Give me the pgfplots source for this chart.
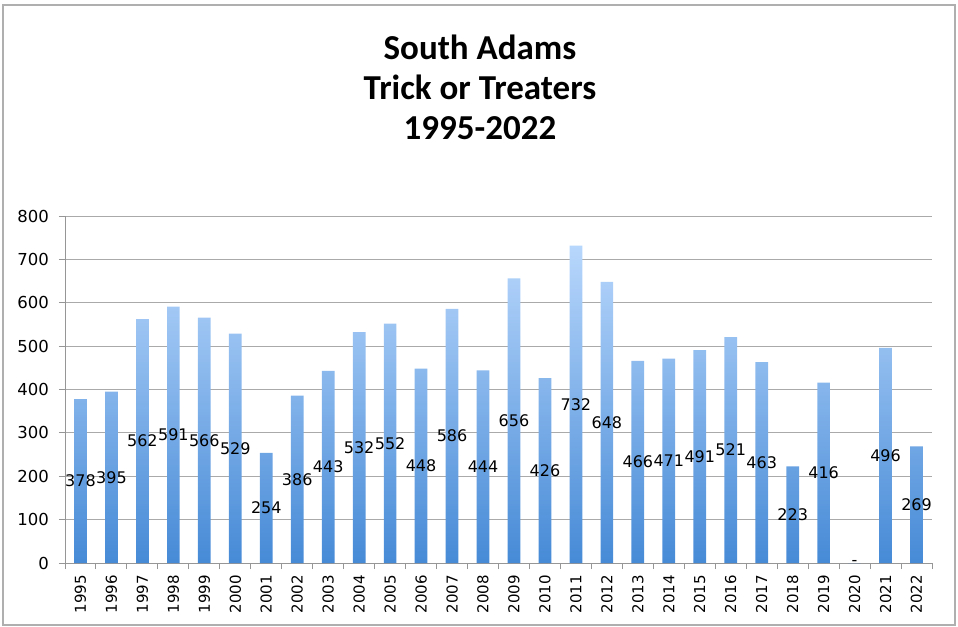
\documentclass[border=0pt]{standalone}
\usepackage{pgfplots}
\pgfplotsset{compat=1.18}
\usepackage{pgfplotstable}
\usepackage{fontspec}
\setmainfont{DejaVu Sans}
\newfontfamily\titlefont{Carlito}
\definecolor{barTop}{RGB}{184,215,252}
\definecolor{barBot}{RGB}{70,138,214}
\definecolor{gridgray}{RGB}{170,170,170}
\definecolor{axisgray}{RGB}{150,150,150}
\definecolor{framegray}{RGB}{175,175,175}
\pgfplotstableread{
x year y label
0 1995 378 378
1 1996 395 395
2 1997 562 562
3 1998 591 591
4 1999 566 566
5 2000 529 529
6 2001 254 254
7 2002 386 386
8 2003 443 443
9 2004 532 532
10 2005 552 552
11 2006 448 448
12 2007 586 586
13 2008 444 444
14 2009 656 656
15 2010 426 426
16 2011 732 732
17 2012 648 648
18 2013 466 466
19 2014 471 471
20 2015 491 491
21 2016 521 521
22 2017 463 463
23 2018 223 223
24 2019 416 416
25 2020 0 -
26 2021 496 496
27 2022 269 269
}\datatable
\begin{document}
\begin{tikzpicture}
\path[use as bounding box] (0,0) rectangle (958bp,627bp);
\draw[framegray, line width=1.5bp] (3bp,2bp) rectangle (955bp,622bp);
\node[align=center, font=\titlefont\bfseries\fontsize{35bp}{40bp}\selectfont] at (480bp,540bp) {South Adams\\Trick or Treaters\\1995-2022};
\begin{axis}[
  at={(65bp,64bp)}, anchor=south west,
  scale only axis, width=867bp, height=347bp,
  xmin=-0.5, xmax=27.5, ymin=0, ymax=800,
  ytick={0,100,...,800},
  ymajorgrids, grid style={draw=gridgray, line width=1bp},
  axis x line*=bottom, axis y line*=left,
  axis line style={draw=axisgray, line width=1bp},
  tick align=outside,
  major tick length=6bp,
  tick style={draw=axisgray, line width=1bp},
  xtick={-0.5,0.5,...,27.5},
  xticklabel=\empty,
  extra x ticks={0,1,...,27},
  extra x tick labels={1995,1996,1997,1998,1999,2000,2001,2002,2003,2004,2005,2006,2007,2008,2009,2010,2011,2012,2013,2014,2015,2016,2017,2018,2019,2020,2021,2022},
  extra x tick style={major tick length=0pt, grid=none,
     tick label style={rotate=90, anchor=east, inner xsep=12bp, font=\fontsize{15bp}{17bp}\selectfont}},
  yticklabel style={font=\fontsize{16.5bp}{19bp}\selectfont, inner xsep=10bp},
  /pgf/number format/assume math mode=true,
  clip=false,
]
\addplot[ybar, bar width=0.41, draw=none, top color=barTop, bottom color=barBot] table[x=x, y=y]{\datatable};
\addplot[draw=none, mark=none, nodes near coords, point meta=explicit symbolic,
  every node near coord/.append style={anchor=center, text=black, font=\fontsize{16bp}{19bp}\selectfont}]
  table[x=x, y expr=\thisrow{y}/2, meta=label]{\datatable};
\end{axis}
\end{tikzpicture}
\end{document}
